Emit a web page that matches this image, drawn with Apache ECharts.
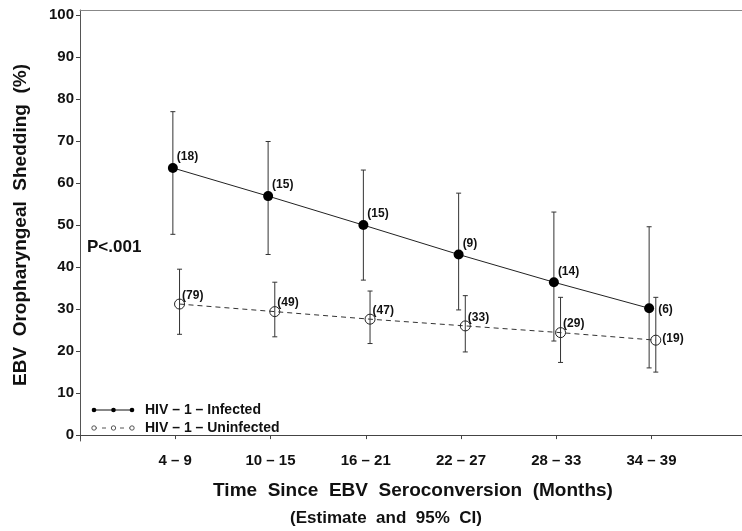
<!DOCTYPE html>
<html>
<head>
<meta charset="utf-8">
<script src="https://cdn.jsdelivr.net/npm/echarts@6/dist/echarts.min.js"></script>
<style>
  html, body { margin: 0; padding: 0; background: #fff; }
  #chart { width: 742px; height: 531px; }
</style>
</head>
<body>
<div id="chart"></div>
<script>
// ---- data ----
const periods = ['4 – 9', '10 – 15', '16 – 21', '22 – 27', '28 – 33', '34 – 39'];

const infectedEst = [63.6, 56.9, 50.0, 43.0, 36.4, 30.2];
const infectedLow = [47.8, 43.0, 36.9, 29.8, 22.4, 16.0];
const infectedHigh = [77.0, 69.9, 63.1, 57.6, 53.1, 49.6];
const infectedN = [18, 15, 15, 9, 14, 6];

const uninfEst = [31.2, 29.4, 27.6, 26.0, 24.4, 22.6];
const uninfLow = [24.0, 23.4, 21.8, 19.8, 17.3, 15.0];
const uninfHigh = [39.5, 36.4, 34.3, 33.2, 32.8, 32.8];
const uninfN = [79, 49, 47, 33, 29, 19];

const yTicks = [0, 10, 20, 30, 40, 50, 60, 70, 80, 90, 100];

const FONT = "'Liberation Sans', Arial, Helvetica, sans-serif";
const INF = 'HIV – 1 – Infected';
const UNINF = 'HIV – 1 – Uninfected';

// small horizontal nudge so the two groups don't overlap (as in the print)
const infShift = -0.025;
const uninfShift = 0.045;

function pointData(est, n, shift, normalPos, lastPos) {
  return est.map((v, i) => ({
    value: [i + 1 + shift, v],
    n: n[i],
    label: { position: i === est.length - 1 ? lastPos : normalPos }
  }));
}

function barData(low, high, shift) {
  return low.map((l, i) => [i + 1 + shift, l, high[i]]);
}

function renderErrorBar(params, api) {
  const x = api.value(0);
  const lo = api.coord([x, api.value(1)]);
  const hi = api.coord([x, api.value(2)]);
  const cap = 2.5;
  const style = { stroke: '#333', lineWidth: 1 };
  return {
    type: 'group',
    children: [
      { type: 'line', shape: { x1: lo[0], y1: lo[1], x2: hi[0], y2: hi[1] }, style },
      { type: 'line', shape: { x1: hi[0] - cap, y1: hi[1], x2: hi[0] + cap, y2: hi[1] }, style },
      { type: 'line', shape: { x1: lo[0] - cap, y1: lo[1], x2: lo[0] + cap, y2: lo[1] }, style }
    ]
  };
}

// hand drawn key in the lower left corner (line + three markers + text)
function legendRow(y, text, filled) {
  const children = [
    {
      type: 'line',
      shape: { x1: 93, y1: y, x2: 133, y2: y },
      style: { stroke: filled ? '#111' : '#555', lineWidth: 1, lineDash: filled ? null : [4, 5] }
    }
  ];
  [94, 113.5, 132].forEach((cx) => {
    children.push({
      type: 'circle',
      shape: { cx, cy: y, r: filled ? 2.3 : 2.2 },
      style: filled ? { fill: '#000' } : { fill: '#fff', stroke: '#444', lineWidth: 0.9 }
    });
  });
  children.push({
    type: 'text', x: 145, y,
    style: {
      text, fill: '#111', font: 'bold 14px ' + FONT,
      align: 'left', verticalAlign: 'middle'
    }
  });
  return { type: 'group', children };
}

const chart = echarts.init(document.getElementById('chart'));

const labelStyle = {
  show: true,
  formatter: (p) => '(' + p.data.n + ')',
  fontFamily: FONT,
  fontWeight: 'bold',
  fontSize: 12,
  color: '#111',
  verticalAlign: 'middle',
  align: 'left'
};

chart.setOption({
  animation: false,
  backgroundColor: '#fff',
  grid: { left: 80, right: 0, top: 10, bottom: 90 },
  xAxis: [
    {
      type: 'value',
      min: 0,
      max: 6.95,
      interval: 1,
      position: 'bottom',
      axisLine: { show: true, lineStyle: { color: '#444', width: 1 } },
      axisTick: { show: true, inside: false, length: 4, lineStyle: { color: '#444' } },
      axisLabel: {
        margin: 12,
        showMaxLabel: false,
        formatter: (v) => (v >= 1 && v <= periods.length && Number.isInteger(v)) ? periods[v - 1] : '',
        fontFamily: FONT,
        fontWeight: 'bold',
        fontSize: 15,
        color: '#111'
      },
      splitLine: { show: false }
    },
    {
      type: 'value',
      min: 0,
      max: 6.95,
      position: 'top',
      axisLine: { show: true, lineStyle: { color: '#888', width: 1 } },
      axisTick: { show: false },
      axisLabel: { show: false },
      splitLine: { show: false }
    }
  ],
  yAxis: {
    type: 'value',
    min: -1.4,
    max: 101.2,
    axisLine: { show: true, lineStyle: { color: '#555', width: 1 } },
    axisTick: { show: true, length: 4, customValues: yTicks, lineStyle: { color: '#444' } },
    axisLabel: {
      customValues: yTicks,
      margin: 6,
      fontFamily: FONT,
      fontWeight: 'bold',
      fontSize: 15,
      color: '#111'
    },
    splitLine: { show: false }
  },
  graphic: [
    {
      type: 'text', x: 21, y: 225, rotation: Math.PI / 2,
      style: {
        text: 'EBV  Oropharyngeal  Shedding  (%)', fill: '#111',
        font: 'bold 19px ' + FONT, align: 'center', verticalAlign: 'middle'
      }
    },
    {
      type: 'text', x: 413, y: 491,
      style: {
        text: 'Time  Since  EBV  Seroconversion  (Months)', fill: '#111',
        font: 'bold 19px ' + FONT, align: 'center', verticalAlign: 'middle'
      }
    },
    {
      type: 'text', x: 386, y: 518,
      style: {
        text: '(Estimate  and  95%  CI)', fill: '#111',
        font: 'bold 17px ' + FONT, align: 'center', verticalAlign: 'middle'
      }
    },
    {
      type: 'text', x: 87, y: 247,
      style: {
        text: 'P<.001', fill: '#111',
        font: 'bold 17px ' + FONT, align: 'left', verticalAlign: 'middle'
      }
    },
    legendRow(410, INF, true),
    legendRow(428, UNINF, false)
  ],
  series: [
    {
      name: 'infectedCI',
      type: 'custom',
      renderItem: renderErrorBar,
      encode: { x: 0, y: [1, 2] },
      data: barData(infectedLow, infectedHigh, infShift),
      silent: true,
      z: 1
    },
    {
      name: 'uninfCI',
      type: 'custom',
      renderItem: renderErrorBar,
      encode: { x: 0, y: [1, 2] },
      data: barData(uninfLow, uninfHigh, uninfShift),
      silent: true,
      z: 1
    },
    {
      name: INF,
      type: 'line',
      symbol: 'circle',
      symbolSize: 10,
      itemStyle: { color: '#000' },
      lineStyle: { color: '#222', width: 1 },
      label: labelStyle,
      data: pointData(infectedEst, infectedN, infShift, [9, -6], [14, 6]),
      z: 3
    },
    {
      name: UNINF,
      type: 'line',
      symbol: 'circle',
      symbolSize: 10,
      itemStyle: { color: 'transparent', borderColor: '#222', borderWidth: 1 },
      lineStyle: { color: '#333', width: 1, type: [5, 4] },
      label: labelStyle,
      data: pointData(uninfEst, uninfN, uninfShift, [8, -3], [12, 4]),
      z: 3
    }
  ]
});
</script>
</body>
</html>
